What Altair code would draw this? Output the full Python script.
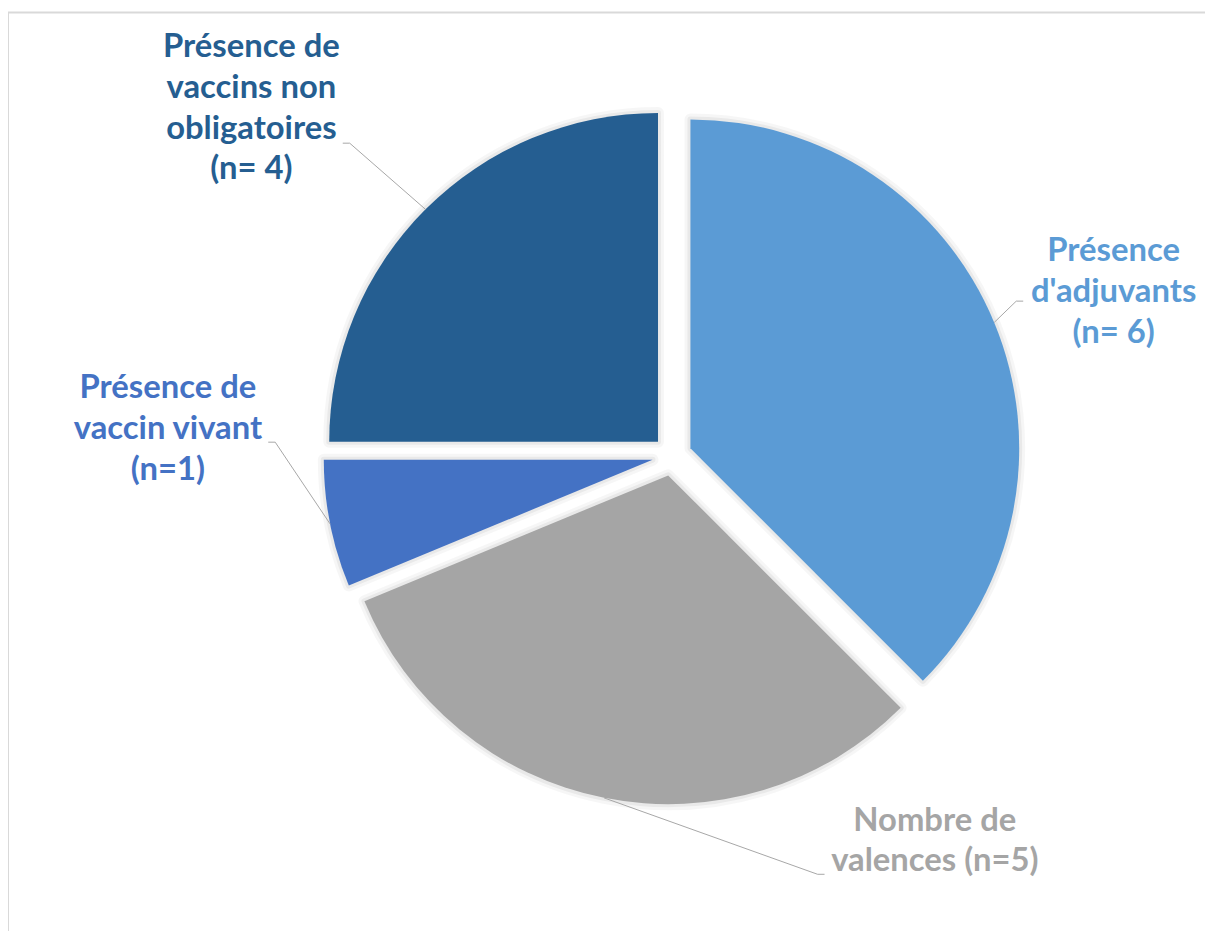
import altair as alt
import pandas as pd

# ---------------- data ----------------
names = [
    "Présence d'adjuvants",
    "Nombre de valences",
    "Présence de vaccin vivant",
    "Présence de vaccins non obligatoires",
]
values = [6, 5, 1, 4]
label_lines = [
    ["Présence", "d'adjuvants", "(n= 6)"],
    ["Nombre de", "valences (n=5)"],
    ["Présence de", "vaccin vivant", "(n=1)"],
    ["Présence de", "vaccins non", "obligatoires", "(n= 4)"],
]

# ---------------- styles / layout ----------------
colors = ["#5B9BD5", "#A5A5A5", "#4472C4", "#255E91"]
W, H = 1205, 923
CX, CY = 668.5, 447.8
R = 331
EXPLODE = 20
LINE_H = 41
FONT_SIZE = 33
# label block centre and leader elbow, as offsets from the pie centre
label_dx = [444.5, 264.5, -507.5, -423.5]
label_dy = [-164.8, 387.7, -26.8, -349.8]
elbow_dx = [346.5, 146.5, -399.5, -324.5]
elbow_dy = [-155.8, 421.2, -13.8, -314.8]
tail_dx = [353.5, 153.5, -406.5, -331.5]

slices = pd.DataFrame({
    "name": names,
    "value": values,
    "order": list(range(len(names))),
    "edx": elbow_dx,
    "edy": elbow_dy,
    "tdx": tail_dx,
})

rows = []
for nm, lines, ldx, ldy in zip(names, label_lines, label_dx, label_dy):
    for i, ln in enumerate(lines):
        rows.append({"name": nm, "text": ln, "idx": i, "n": len(lines), "ldx": ldx, "ldy": ldy})
lines_df = pd.DataFrame(rows)

color_enc = alt.Color("name:N", scale=alt.Scale(domain=names, range=colors), legend=None)

base = (
    alt.Chart(slices)
    .transform_joinaggregate(total="sum(value)")
    .transform_window(cum="sum(value)", sort=[alt.SortField("order")], frame=[None, 0])
    .transform_calculate(
        t0="2*PI*(datum.cum - datum.value)/datum.total",
        t1="2*PI*datum.cum/datum.total",
    )
    .transform_calculate(mid="(datum.t0 + datum.t1)/2")
    .transform_calculate(
        sx=f"{CX} + {EXPLODE}*sin(datum.mid)",
        sy=f"{CY} - {EXPLODE}*cos(datum.mid)",
        ax=f"{CX} + {R + EXPLODE}*sin(datum.mid)",
        ay=f"{CY} - {R + EXPLODE}*cos(datum.mid)",
        ex=f"{CX} + datum.edx",
        ey=f"{CY} + datum.edy",
        tx=f"{CX} + datum.tdx",
    )
)

arc_enc = dict(
    theta=alt.Theta("t0:Q", scale=None),
    theta2=alt.Theta2("t1:Q"),
    x=alt.X("sx:Q", scale=None, axis=None),
    y=alt.Y("sy:Q", scale=None, axis=None),
)

shadow1 = base.mark_arc(radius=R, fill="black", fillOpacity=0, stroke="black",
                        strokeOpacity=0.035, strokeWidth=12, strokeJoin="round").encode(**arc_enc)
shadow2 = base.mark_arc(radius=R, fill="black", fillOpacity=0, stroke="black",
                        strokeOpacity=0.05, strokeWidth=6, strokeJoin="round").encode(**arc_enc)
arcs = base.mark_arc(radius=R).encode(color=color_enc, **arc_enc)

leader1 = base.mark_rule(color="#A6A6A6", strokeWidth=1).encode(
    x=alt.X("ax:Q", scale=None, axis=None),
    y=alt.Y("ay:Q", scale=None, axis=None),
    x2=alt.X2("ex:Q"),
    y2=alt.Y2("ey:Q"),
)
leader2 = base.mark_rule(color="#A6A6A6", strokeWidth=1).encode(
    x=alt.X("ex:Q", scale=None, axis=None),
    y=alt.Y("ey:Q", scale=None, axis=None),
    x2=alt.X2("tx:Q"),
    y2=alt.Y2("ey:Q"),
)

texts = (
    alt.Chart(lines_df)
    .transform_calculate(
        lx=f"{CX} + datum.ldx",
        ly=f"{CY} + datum.ldy + (datum.idx - (datum.n - 1)/2)*{LINE_H}",
    )
    .mark_text(font="Lato", fontWeight="bold", fontSize=FONT_SIZE, align="center", baseline="middle")
    .encode(
        x=alt.X("lx:Q", scale=None, axis=None),
        y=alt.Y("ly:Q", scale=None, axis=None),
        text="text:N",
        color=color_enc,
    )
)

frame_src = alt.Chart(pd.DataFrame({"k": [0]}))
border_left = frame_src.mark_rule(color="#D9D9D9", strokeWidth=2).encode(
    x=alt.value(0), y=alt.value(1.5), y2=alt.value(H + 10)
)
border_top = frame_src.mark_rule(color="#D9D9D9", strokeWidth=2).encode(
    x=alt.value(0), x2=alt.value(W + 10), y=alt.value(1.5)
)

chart = (
    alt.layer(shadow1, shadow2, arcs, leader1, leader2, texts, border_left, border_top)
    .properties(width=W, height=H, padding=0, autosize=alt.AutoSizeParams(type="none"),
                background="white")
    .configure_view(stroke=None)
)

chart.save("out.html", embed_options={"renderer": "svg", "actions": False})
